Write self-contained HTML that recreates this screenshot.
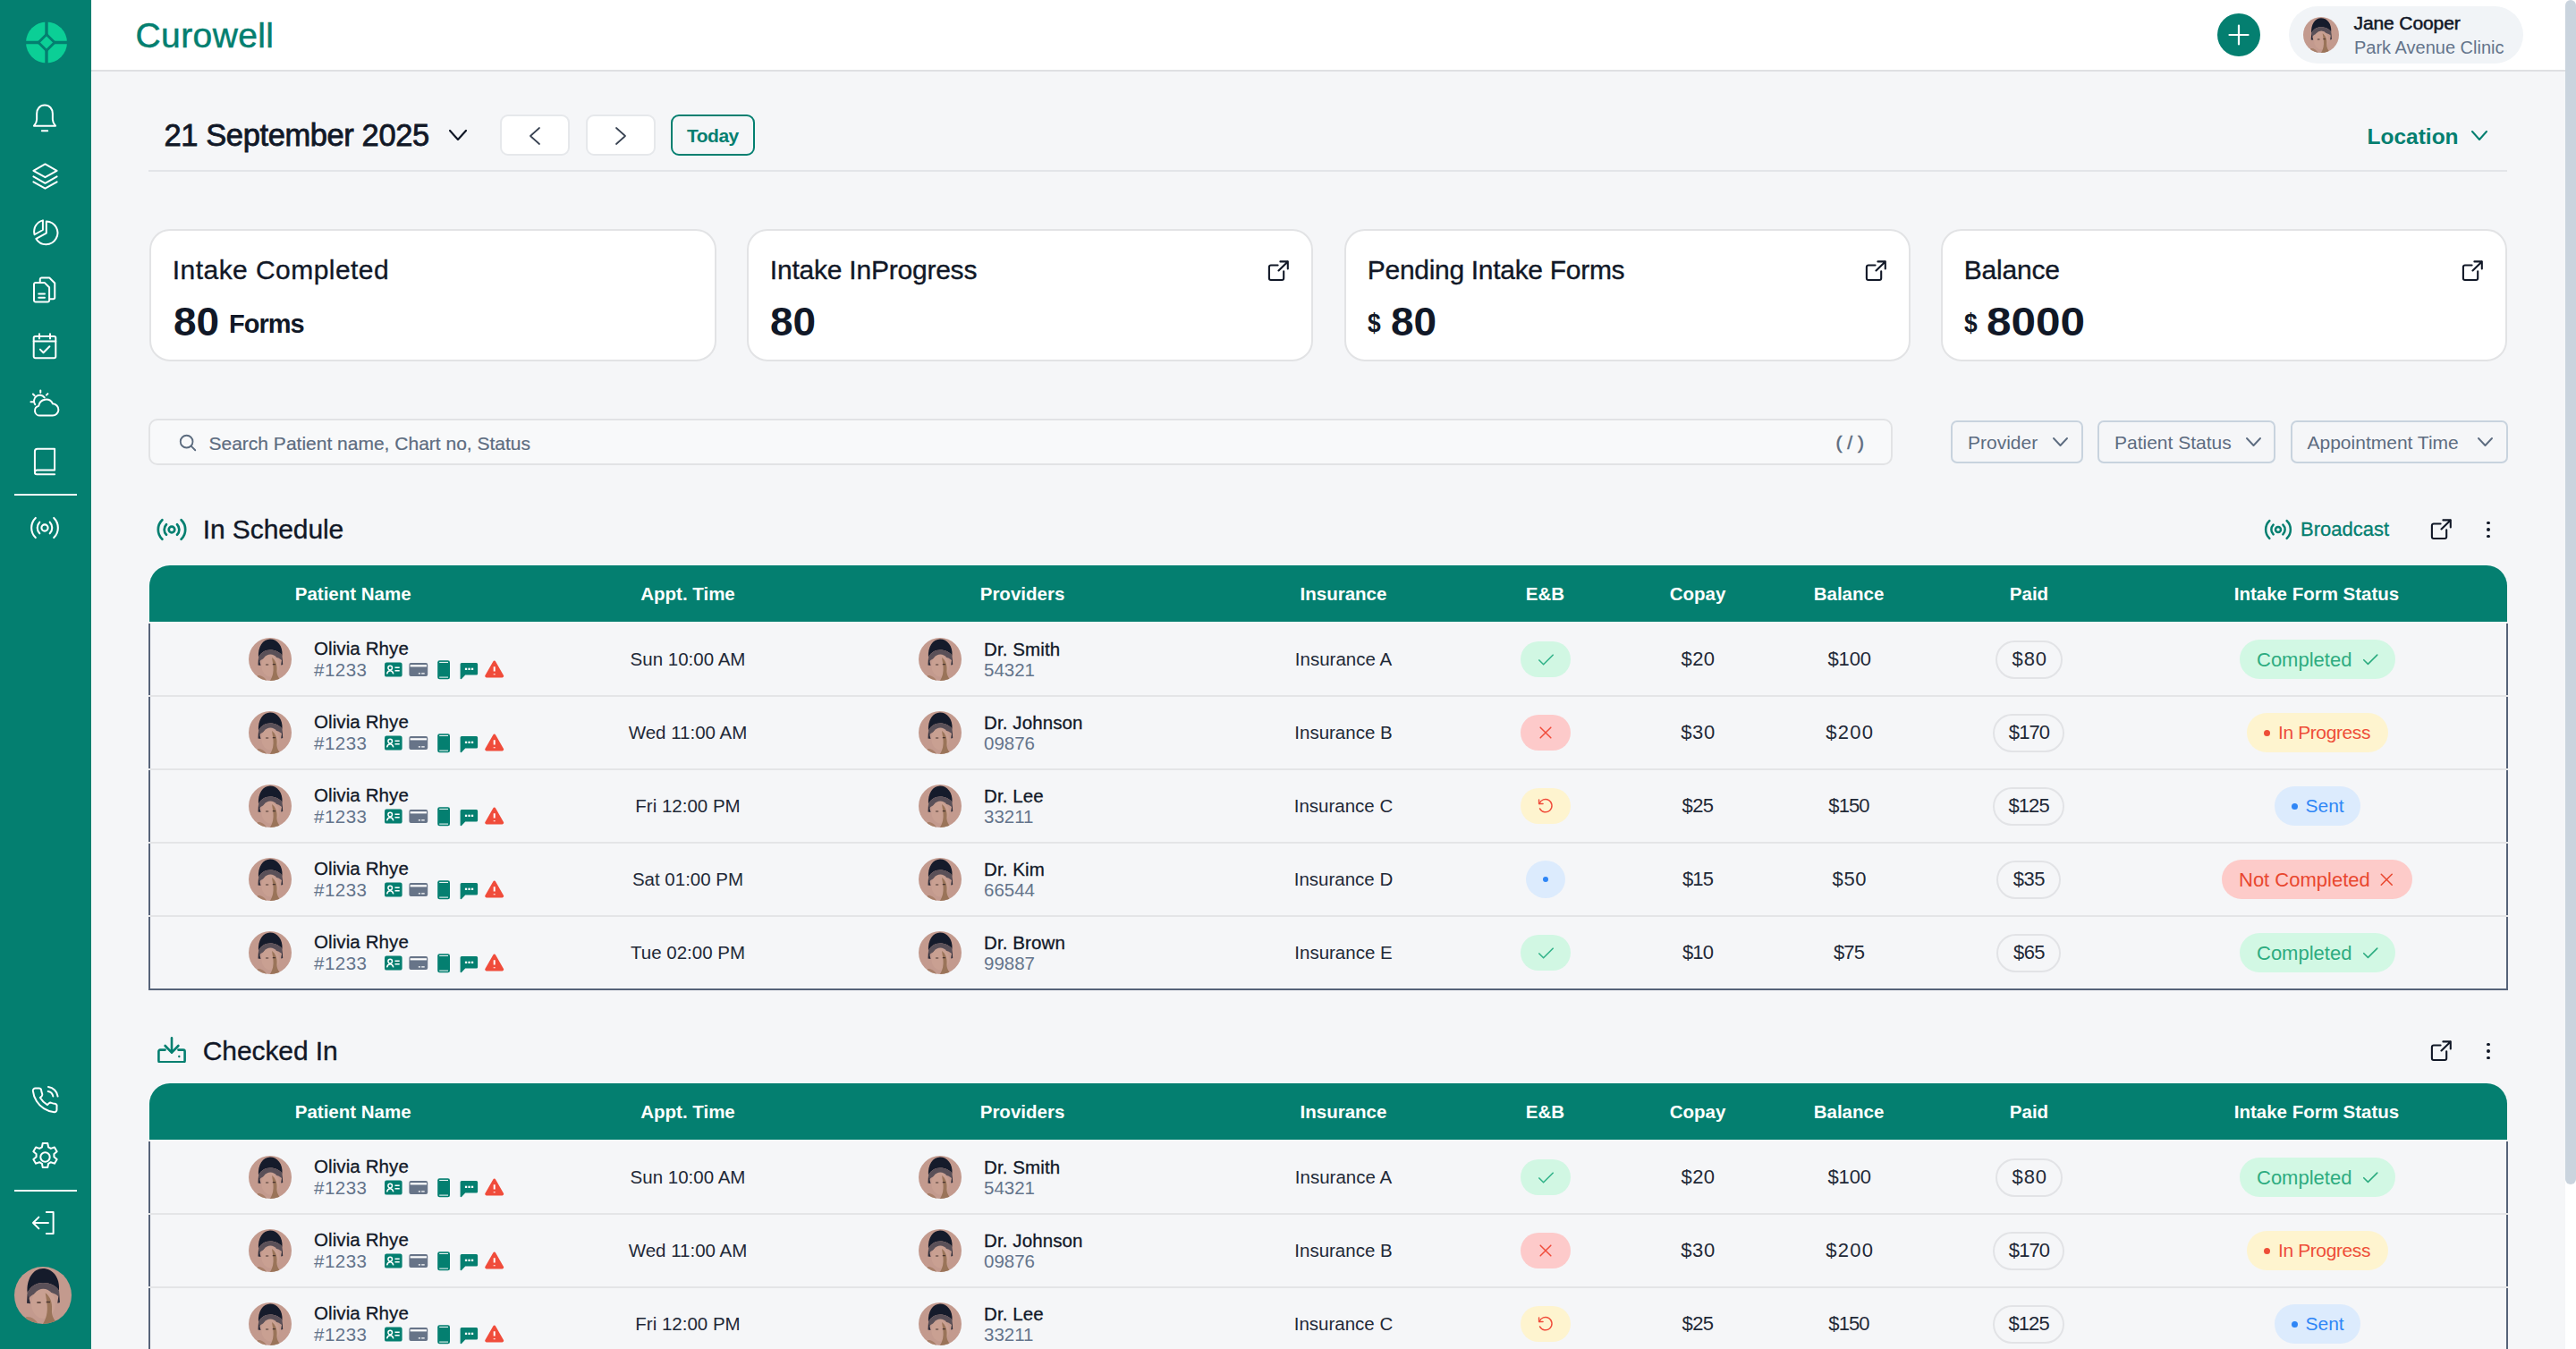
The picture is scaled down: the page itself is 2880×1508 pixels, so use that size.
<!DOCTYPE html><html><head><meta charset="utf-8"><title>Curowell</title><style>
*{box-sizing:border-box;margin:0;padding:0}
html,body{width:2880px;height:1508px;overflow:hidden;background:#f5f6f8;font-family:"Liberation Sans",sans-serif}
.t{position:absolute;white-space:nowrap;line-height:1}
.a{position:absolute}
svg{display:block}
.ic{position:absolute;fill:none;stroke-linecap:round;stroke-linejoin:round}
</style></head><body>
<svg width="0" height="0" style="position:absolute"><defs>
<clipPath id="cc"><circle cx="24" cy="24" r="24"/></clipPath>
<symbol id="av" viewBox="0 0 48 48"><g clip-path="url(#cc)">
<rect width="48" height="48" fill="#c39a8e"/>
<path d="M11 22 C10 10 16 1.5 24 1.5 C32 1.5 38.5 9 37.5 20 C35 16 30 13.5 24 13.5 C18 13.5 13.5 16.5 11 22 Z" fill="#151b2b"/>
<path d="M11 22 C13.5 16.5 18 13.5 24 13.5 C30 13.5 35 16 37.5 20 L37 25 C34 22 30 21 26 22 C22 21 17 22 13.5 25 L12 27 Z" fill="#5a5058"/>
<path d="M11 22 L12.5 27 L13.5 31 L10.5 30.5 Z M37.5 20 L38.2 30 L36.2 30.5 L37 25 Z" fill="#2c2b38"/>
<ellipse cx="24.3" cy="31" rx="10" ry="12.5" fill="#c9a092"/>
<path d="M26 22 C30 25 32 30 31.5 36 C31 41 33.5 45 36.5 48 L24 48 C27 43 28 38 27.5 32 C27 28 26.5 25 26 22Z" fill="#9a7459"/>
<path d="M10 42 C14 41.5 18 44 20 48 L8 48Z" fill="#a8806a"/>
<path d="M19 30h3.2M26.8 29.6h3.2" stroke="#4a3630" stroke-width="1.2"/>
</g></symbol>
</defs></svg>
<div class="a" style="left:0;top:0;width:102px;height:1508px;background:#047f70"></div>
<svg class="a" style="left:28px;top:24px" width="48" height="47" viewBox="0 0 48 47">
<circle cx="24" cy="23.5" r="23" fill="#0bcf96"/>
<path d="M24 0v47M0 23.5h48" stroke="#047f70" stroke-width="3.4"/>
<path d="M24 12.5 L35 23.5 L24 34.5 L13 23.5Z" fill="#047f70"/>
<path d="M24 16.5 L31 23.5 L24 30.5 L17 23.5Z" fill="#0bcf96"/>
</svg>
<svg class="ic" style="left:31.0px;top:113.0px" width="38" height="38" viewBox="0 0 24 24" stroke="#fff" stroke-width="1.26"><path d="M12 2.8c-3.4 0-5.6 2.7-5.6 6V13c0 1.7-.9 3.3-2 4.5h15.2c-1.1-1.2-2-2.8-2-4.5V8.8c0-3.3-2.2-6-5.6-6z"/><path d="M10 21h4"/></svg>
<svg class="ic" style="left:31.5px;top:177.5px" width="37" height="37" viewBox="0 0 24 24" stroke="#fff" stroke-width="1.30"><path d="M12 3.5l8.5 4.8-8.5 4.8-8.5-4.8z"/><path d="M3.5 12.6l8.5 4.8 8.5-4.8"/><path d="M3.5 16.4l8.5 4.8 8.5-4.8"/></svg>
<svg class="ic" style="left:32.0px;top:242.0px" width="36" height="36" viewBox="0 0 24 24" stroke="#fff" stroke-width="1.33"><path d="M13.2 3.6A8.6 8.6 0 1 1 5.6 16.6L13.2 12.4z"/><path d="M10.6 2.9L10.6 10 4.4 13.5A8.6 8.6 0 0 1 10.6 2.9z"/></svg>
<svg class="ic" style="left:32.0px;top:306.0px" width="36" height="36" viewBox="0 0 24 24" stroke="#fff" stroke-width="1.33"><path d="M8.5 6.5V4.2a1.2 1.2 0 0 1 1.2-1.2h5.8l4 4v10.6a1.2 1.2 0 0 1-1.2 1.2h-2.4"/><path d="M5.2 6.6h6.6l3.6 3.6v9.6a1.2 1.2 0 0 1-1.2 1.2H5.2A1.2 1.2 0 0 1 4 19.8V7.8a1.2 1.2 0 0 1 1.2-1.2z"/><path d="M7.5 15h4.5M7.5 17.8h4.5"/></svg>
<svg class="ic" style="left:32.0px;top:369.0px" width="36" height="36" viewBox="0 0 24 24" stroke="#fff" stroke-width="1.33"><rect x="3.8" y="4.6" width="16.4" height="16.2" rx="1.2"/><path d="M8 2.8v3.6M16 2.8v3.6M3.8 8.4h16.4"/><path d="M8.6 14.4l2.4 2.4 4.6-4.6"/></svg>
<svg class="ic" style="left:31.5px;top:432.5px" width="37" height="37" viewBox="0 0 24 24" stroke="#fff" stroke-width="1.30"><path d="M8.3 20.5h8.9a4.3 4.3 0 0 0 .3-8.6 5.4 5.4 0 0 0-10.2 1.5 3.6 3.6 0 0 0 1 7.1z"/><path d="M4.7 12.4a4.2 4.2 0 0 1 6.8-5"/><path d="M8.6 2.2v1.6M3.2 4.9l1.1 1.1M1.6 10.6h1.6M13.9 4.6l-1 1"/></svg>
<svg class="ic" style="left:31.0px;top:497.0px" width="38" height="38" viewBox="0 0 24 24" stroke="#fff" stroke-width="1.26"><path d="M5 19V4.8A1.8 1.8 0 0 1 6.8 3H19v15H6.6A1.6 1.6 0 0 0 5 19.6 1.4 1.4 0 0 0 6.4 21H19"/></svg>
<div class="a" style="left:16px;top:552px;width:70px;height:2px;background:#fff"></div>
<svg class="ic" style="left:32.0px;top:572.0px" width="36" height="36" viewBox="0 0 24 24" stroke="#fff" stroke-width="1.40"><circle cx="12" cy="12" r="2.4"/><path d="M8.2 7.8a6 6 0 0 0 0 8.4M15.8 7.8a6 6 0 0 1 0 8.4M5.2 4.6a10.4 10.4 0 0 0 0 14.8M18.8 4.6a10.4 10.4 0 0 1 0 14.8"/></svg>
<svg class="ic" style="left:32.5px;top:1213.0px" width="34" height="34" viewBox="0 0 24 24" stroke="#fff" stroke-width="1.41"><path d="M14.6 4.9a5 5 0 0 1 4 4M14.8 1.4a8.6 8.6 0 0 1 7.5 7.5"/><path d="M21.5 16.6v2.8a1.9 1.9 0 0 1-2 1.9 18.7 18.7 0 0 1-8.2-2.9 18.4 18.4 0 0 1-5.7-5.7 18.7 18.7 0 0 1-2.9-8.2 1.9 1.9 0 0 1 1.9-2h2.8a1.9 1.9 0 0 1 1.9 1.6c.1.9.3 1.8.7 2.7a1.9 1.9 0 0 1-.4 2L8.4 9.9a15 15 0 0 0 5.7 5.7l1.2-1.2a1.9 1.9 0 0 1 2-.4c.9.3 1.8.6 2.7.7a1.9 1.9 0 0 1 1.6 1.9z"/></svg>
<svg class="ic" style="left:30.5px;top:1274.0px" width="39" height="39" viewBox="0 0 24 24" stroke="#fff" stroke-width="1.23"><circle cx="12" cy="12" r="3.2"/><path d="M10.3 2.5h3.4l.5 2.6 1.7 1 2.5-.9 1.7 2.9-2 1.7v2l2 1.7-1.7 2.9-2.5-.9-1.7 1-.5 2.6h-3.4l-.5-2.6-1.7-1-2.5.9-1.7-2.9 2-1.7v-2l-2-1.7 1.7-2.9 2.5.9 1.7-1z"/></svg>
<div class="a" style="left:16px;top:1330px;width:70px;height:2px;background:#fff"></div>
<svg class="ic" style="left:32.0px;top:1350.0px" width="34" height="34" viewBox="0 0 24 24" stroke="#fff" stroke-width="1.41"><path d="M14 3.5h5.5v17H14"/><path d="M15.5 12H3.5M8 7.5L3.5 12 8 16.5"/></svg>
<svg class="a" style="left:16px;top:1416px" width="64" height="64"><use href="#av"/></svg>
<div class="a" style="left:102px;top:80px;width:1px;height:1428px;background:#fff"></div>
<div class="a" style="left:102px;top:0;width:2766px;height:80px;background:#fff;border-bottom:2px solid #dfe0e3"></div>
<div class="t" style="left:151.5px;top:19.8px;font-size:39px;color:#047f70;letter-spacing:0.4px;-webkit-text-stroke:0.5px #047f70;">Curowell</div>
<div class="a" style="left:2479px;top:15px;width:48px;height:48px;border-radius:50%;background:#047f70"></div>
<svg class="ic" style="left:2491px;top:27px" width="24" height="24" viewBox="0 0 24 24" stroke="#fff" stroke-width="2.2"><path d="M12 1.5v21M1.5 12h21"/></svg>
<div class="a" style="left:2559px;top:7px;width:262px;height:64px;border-radius:32px;background:#f1f4f7"></div>
<svg class="a" style="left:2575px;top:19px" width="40" height="40"><use href="#av"/></svg>
<div class="t" style="left:2631.5px;top:14.6px;font-size:21px;color:#111827;letter-spacing:-0.1px;-webkit-text-stroke:0.55px #111827;">Jane Cooper</div>
<div class="t" style="left:2632px;top:43.3px;font-size:20px;color:#64748b;">Park Avenue Clinic</div>
<div class="a" style="left:2868px;top:0;width:12px;height:1508px;background:#fff"></div>
<div class="a" style="left:2868px;top:0;width:12px;height:1324px;border-radius:6px;background:#cad4de"></div>
<div class="t" style="left:183.5px;top:133.8px;font-size:34.5px;color:#111827;letter-spacing:-0.4px;-webkit-text-stroke:0.8px #111827;">21 September 2025</div>
<svg class="ic" style="left:502px;top:145px" width="20" height="12" viewBox="0 0 20 12" stroke="#111827" stroke-width="2.2"><path d="M1 1L10.0 11L19 1"/></svg>
<div class="a" style="left:559px;top:128px;width:78px;height:46px;border-radius:9px;background:#fff;border:2px solid #e6e8eb"></div>
<div class="a" style="left:655px;top:128px;width:78px;height:46px;border-radius:9px;background:#fff;border:2px solid #e6e8eb"></div>
<svg class="ic" style="left:592px;top:141.5px" width="12" height="20" viewBox="0 0 12 20" stroke="#374151" stroke-width="1.7"><path d="M11 1L1 10.0L11 19"/></svg>
<svg class="ic" style="left:688px;top:141.5px" width="12" height="20" viewBox="0 0 12 20" stroke="#374151" stroke-width="1.7"><path d="M1 1L11 10.0L1 19"/></svg>
<div class="a" style="left:750px;top:128px;width:94px;height:46px;border-radius:9px;border:2px solid #047f70"></div>
<div class="t" style="left:768px;top:140.6px;font-size:21px;color:#047f70;font-weight:700;letter-spacing:-0.5px;">Today</div>
<div class="t" style="left:2646.5px;top:141.1px;font-size:24.5px;color:#047f70;font-weight:700;">Location</div>
<svg class="ic" style="left:2763px;top:146px" width="18" height="11" viewBox="0 0 18 11" stroke="#047f70" stroke-width="2"><path d="M1 1L9.0 10L17 1"/></svg>
<div class="a" style="left:166px;top:190px;width:2637px;height:2px;background:#e3e5e9"></div>
<div class="a" style="left:167px;top:256px;width:634px;height:148px;border-radius:23px;background:#fff;border:2px solid #e2e3e5"></div>
<div class="t" style="left:192.8px;top:287.4px;font-size:30px;color:#111827;letter-spacing:0.45px;-webkit-text-stroke:0.35px #111827;">Intake Completed</div>
<div class="a" style="left:835px;top:256px;width:633px;height:148px;border-radius:23px;background:#fff;border:2px solid #e2e3e5"></div>
<div class="t" style="left:860.8px;top:287.4px;font-size:30px;color:#111827;letter-spacing:-0.22px;-webkit-text-stroke:0.35px #111827;">Intake InProgress</div>
<svg class="ic" style="left:1415.5px;top:289.6px" width="25" height="25" viewBox="0 0 25 25" stroke="#111827" stroke-width="2.1"><path d="M12.6 6.5H4.9a2 2 0 0 0-2 2V21a2 2 0 0 0 2 2h12.3a2 2 0 0 0 2-2V13.3"/><path d="M13.5 12.5L23.8 2.4M15.4 2.4h8.4v8.1"/></svg>
<div class="a" style="left:1503px;top:256px;width:633px;height:148px;border-radius:23px;background:#fff;border:2px solid #e2e3e5"></div>
<div class="t" style="left:1528.8px;top:287.4px;font-size:30px;color:#111827;letter-spacing:-0.3px;-webkit-text-stroke:0.35px #111827;">Pending Intake Forms</div>
<svg class="ic" style="left:2083.5px;top:289.6px" width="25" height="25" viewBox="0 0 25 25" stroke="#111827" stroke-width="2.1"><path d="M12.6 6.5H4.9a2 2 0 0 0-2 2V21a2 2 0 0 0 2 2h12.3a2 2 0 0 0 2-2V13.3"/><path d="M13.5 12.5L23.8 2.4M15.4 2.4h8.4v8.1"/></svg>
<div class="a" style="left:2170px;top:256px;width:633px;height:148px;border-radius:23px;background:#fff;border:2px solid #e2e3e5"></div>
<div class="t" style="left:2195.8px;top:287.4px;font-size:30px;color:#111827;letter-spacing:-0.2px;-webkit-text-stroke:0.35px #111827;">Balance</div>
<svg class="ic" style="left:2750.5px;top:289.6px" width="25" height="25" viewBox="0 0 25 25" stroke="#111827" stroke-width="2.1"><path d="M12.6 6.5H4.9a2 2 0 0 0-2 2V21a2 2 0 0 0 2 2h12.3a2 2 0 0 0 2-2V13.3"/><path d="M13.5 12.5L23.8 2.4M15.4 2.4h8.4v8.1"/></svg>
<div class="t" style="left:193.5px;top:337.5px;font-size:44px;color:#111827;font-weight:700;transform:scaleX(1.045);transform-origin:0 0;">80</div>
<div class="t" style="left:256px;top:347.9px;font-size:29px;color:#111827;font-weight:700;letter-spacing:-1px;">Forms</div>
<div class="t" style="left:860.5px;top:337.5px;font-size:44px;color:#111827;font-weight:700;transform:scaleX(1.045);transform-origin:0 0;">80</div>
<div class="t" style="left:1528.5px;top:346.0px;font-size:30px;color:#111827;font-weight:700;transform:scaleX(0.88);transform-origin:0 0;">$</div>
<div class="t" style="left:1554.5px;top:337.5px;font-size:44px;color:#111827;font-weight:700;transform:scaleX(1.045);transform-origin:0 0;">80</div>
<div class="t" style="left:2195.5px;top:346.0px;font-size:30px;color:#111827;font-weight:700;transform:scaleX(0.88);transform-origin:0 0;">$</div>
<div class="t" style="left:2221.3px;top:337.5px;font-size:44px;color:#111827;font-weight:700;transform:scaleX(1.125);transform-origin:0 0;">8000</div>
<div class="a" style="left:166px;top:468px;width:1950px;height:52px;border-radius:10px;background:#f8f9fa;border:2px solid #e2e3e5"></div>
<svg class="ic" style="left:199px;top:484px" width="22" height="22" viewBox="0 0 24 24" stroke="#5b6b7e" stroke-width="2"><circle cx="10.5" cy="10.5" r="7.5"/><path d="M16 16l5 5"/></svg>
<div class="t" style="left:233.5px;top:485.1px;font-size:21px;color:#5d6c80;-webkit-text-stroke:0.2px #5d6c80;">Search Patient name, Chart no, Status</div>
<div class="t" style="left:2052.5px;top:483.6px;font-size:21px;color:#5d6c80;-webkit-text-stroke:0.5px #5d6c80;">( / )</div>
<div class="a" style="left:2181px;top:470px;width:148px;height:48px;border-radius:7px;border:2px solid #c8d3de"></div>
<div class="t" style="left:2200px;top:483.6px;font-size:21px;color:#5d6c80;">Provider</div>
<svg class="ic" style="left:2294.5px;top:489px" width="17" height="10" viewBox="0 0 17 10" stroke="#5d6c80" stroke-width="1.9"><path d="M1 1L8.5 9L16 1"/></svg>
<div class="a" style="left:2345px;top:470px;width:199px;height:48px;border-radius:7px;border:2px solid #c8d3de"></div>
<div class="t" style="left:2364px;top:483.6px;font-size:21px;color:#5d6c80;">Patient Status</div>
<svg class="ic" style="left:2511px;top:489px" width="17" height="10" viewBox="0 0 17 10" stroke="#5d6c80" stroke-width="1.9"><path d="M1 1L8.5 9L16 1"/></svg>
<div class="a" style="left:2561px;top:470px;width:243px;height:48px;border-radius:7px;border:2px solid #c8d3de"></div>
<div class="t" style="left:2579.5px;top:483.6px;font-size:21px;color:#5d6c80;">Appointment Time</div>
<svg class="ic" style="left:2770px;top:489px" width="17" height="10" viewBox="0 0 17 10" stroke="#5d6c80" stroke-width="1.9"><path d="M1 1L8.5 9L16 1"/></svg>
<svg class="ic" style="left:174px;top:579px" width="36" height="26" viewBox="0 0 36 26" stroke="#047f70" stroke-width="2.7"><circle cx="18" cy="13" r="3.3"/><path d="M12 7.2a8.3 8.3 0 0 0 0 11.6M24 7.2a8.3 8.3 0 0 1 0 11.6M7.4 2.2a15 15 0 0 0 0 21.6M28.6 2.2a15 15 0 0 1 0 21.6"/></svg>
<div class="t" style="left:226.8px;top:576.6px;font-size:30px;color:#111827;letter-spacing:-0.1px;-webkit-text-stroke:0.35px #111827;">In Schedule</div>
<svg class="ic" style="left:2531px;top:580px" width="32" height="24" viewBox="0 0 32 24" stroke="#047f70" stroke-width="2.5"><circle cx="16" cy="12" r="3"/><path d="M10.6 6.6a7.6 7.6 0 0 0 0 10.8M21.4 6.6a7.6 7.6 0 0 1 0 10.8M6.3 2.2a13.6 13.6 0 0 0 0 19.6M25.7 2.2a13.6 13.6 0 0 1 0 19.6"/></svg>
<div class="t" style="left:2572px;top:581.3px;font-size:22px;color:#047f70;-webkit-text-stroke:0.3px #047f70;">Broadcast</div>
<svg class="ic" style="left:2716px;top:579px" width="25" height="25" viewBox="0 0 25 25" stroke="#111827" stroke-width="2.1"><path d="M12.6 6.5H4.9a2 2 0 0 0-2 2V21a2 2 0 0 0 2 2h12.3a2 2 0 0 0 2-2V13.3"/><path d="M13.5 12.5L23.8 2.4M15.4 2.4h8.4v8.1"/></svg>
<div class="a" style="left:2780.1px;top:582.6px;width:3.8px;height:3.8px;border-radius:50%;background:#111827"></div><div class="a" style="left:2780.1px;top:590.1px;width:3.8px;height:3.8px;border-radius:50%;background:#111827"></div><div class="a" style="left:2780.1px;top:597.6px;width:3.8px;height:3.8px;border-radius:50%;background:#111827"></div>
<div class="a" style="left:167px;top:632px;width:2636px;height:63px;border-radius:23px 23px 0 0;background:#047f70"></div>
<div class="a" style="left:166px;top:695px;width:2638px;height:2px;background:#f9f7f7"></div>
<div class="t" style="left:394.7px;top:654.2px;font-size:20.5px;color:#fff;font-weight:700;transform:translateX(-50%);">Patient Name</div>
<div class="t" style="left:769px;top:654.2px;font-size:20.5px;color:#fff;font-weight:700;transform:translateX(-50%);">Appt. Time</div>
<div class="t" style="left:1143px;top:654.2px;font-size:20.5px;color:#fff;font-weight:700;transform:translateX(-50%);">Providers</div>
<div class="t" style="left:1502px;top:654.2px;font-size:20.5px;color:#fff;font-weight:700;transform:translateX(-50%);">Insurance</div>
<div class="t" style="left:1727.4px;top:654.2px;font-size:20.5px;color:#fff;font-weight:700;transform:translateX(-50%);">E&amp;B</div>
<div class="t" style="left:1898px;top:654.2px;font-size:20.5px;color:#fff;font-weight:700;transform:translateX(-50%);">Copay</div>
<div class="t" style="left:2067px;top:654.2px;font-size:20.5px;color:#fff;font-weight:700;transform:translateX(-50%);">Balance</div>
<div class="t" style="left:2268.5px;top:654.2px;font-size:20.5px;color:#fff;font-weight:700;transform:translateX(-50%);">Paid</div>
<div class="t" style="left:2590px;top:654.2px;font-size:20.5px;color:#fff;font-weight:700;transform:translateX(-50%);">Intake Form Status</div>
<div class="a" style="left:166px;top:697px;width:2px;height:80px;background:#566379"></div>
<div class="a" style="left:2802px;top:697px;width:2px;height:80px;background:#566379"></div>
<div class="a" style="left:166px;top:777px;width:2638px;height:2px;background:#e4e5e7"></div>
<svg class="a" style="left:278px;top:713px" width="48" height="48"><use href="#av"/></svg>
<div class="t" style="left:351px;top:715.2px;font-size:20.5px;color:#111827;letter-spacing:0.1px;-webkit-text-stroke:0.3px #111827;">Olivia Rhye</div>
<div class="t" style="left:351px;top:738.7px;font-size:20.5px;color:#64748b;letter-spacing:0.5px;">#1233</div>
<svg class="a" style="left:430px;top:738px" width="134" height="22" viewBox="0 0 134 22">
<rect x="0" y="2.6" width="19.6" height="16" rx="2.2" fill="#047f70"/>
<circle cx="6.2" cy="8.6" r="2.3" fill="none" stroke="#fff" stroke-width="1.5"/><path d="M2.6 15.4c.6-2.4 2-3.6 3.6-3.6s3 1.2 3.6 3.6" fill="none" stroke="#fff" stroke-width="1.5"/>
<path d="M11.5 8.3h5.2M11.5 11.8h5.2" stroke="#fff" stroke-width="1.6"/>
<rect x="27.4" y="3.1" width="20.8" height="15" rx="2" fill="#677488"/>
<rect x="28.6" y="5.2" width="18.4" height="2.2" fill="#fff"/>
<path d="M37.8 14.9h2.2M41.2 14.9h3.5" stroke="#fff" stroke-width="1.3"/>
<rect x="59.2" y="0.3" width="13.8" height="21" rx="2.3" fill="#047f70"/>
<path d="M61.2 2.4h9.8M61.2 19.1h9.8" stroke="#fff" stroke-width="1"/>
<path d="M84.6 4.6a1.5 1.5 0 0 1 1.5-1.5h16.5a1.5 1.5 0 0 1 1.5 1.5v10.4a1.5 1.5 0 0 1-1.5 1.5h-12.4l-4.2 4.4a.8.8 0 0 1-1.4-.5z" fill="#047f70"/>
<rect x="89.9" y="8.7" width="2.3" height="2.3" fill="#fff"/><rect x="93.4" y="8.7" width="2.3" height="2.3" fill="#fff"/><rect x="96.9" y="8.7" width="2.3" height="2.3" fill="#fff"/>
<path d="M121.3 1.4a1.6 1.6 0 0 1 2.8 0l8.9 15.6a1.6 1.6 0 0 1-1.4 2.4h-17.8a1.6 1.6 0 0 1-1.4-2.4z" fill="#f04c3b"/>
<path d="M122.7 7.2v5.2M122.7 15.3v.9" stroke="#fff" stroke-width="2"/>
</svg>
<div class="t" style="left:769px;top:726.7px;font-size:20.5px;color:#1f2937;transform:translateX(-50%);">Sun 10:00 AM</div>
<svg class="a" style="left:1027px;top:713px" width="48" height="48"><use href="#av"/></svg>
<div class="t" style="left:1100px;top:716.2px;font-size:20.5px;color:#111827;letter-spacing:0.1px;-webkit-text-stroke:0.3px #111827;">Dr. Smith</div>
<div class="t" style="left:1100px;top:738.7px;font-size:20.5px;color:#64748b;">54321</div>
<div class="t" style="left:1502px;top:727.1px;font-size:20.5px;color:#1f2937;transform:translateX(-50%);">Insurance A</div>
<div class="a" style="left:1700px;top:717px;width:56px;height:40px;border-radius:20px;background:#d1f7e3"></div>
<svg class="ic" style="left:1716.9px;top:726.0px" width="23" height="23" viewBox="0 0 24 24" stroke="#34b48a" stroke-width="1.7"><path d="M4 12.5l5 5L20 6.5"/></svg>
<div class="t" style="left:1879.6px;top:726.4px;font-size:22px;color:#1f2937;letter-spacing:0.35px;">$20</div>
<div class="t" style="left:2043.5px;top:726.4px;font-size:22px;color:#1f2937;letter-spacing:-0.17px;">$100</div>
<div class="t" style="left:2249.6px;top:726.4px;font-size:22px;color:#1f2937;letter-spacing:0.85px;">$80</div>
<div class="a" style="left:2230.9px;top:715.5px;width:75px;height:43px;border-radius:22px;border:2px solid #e2e3e6"></div>
<div class="a" style="left:2504px;top:715px;width:174px;height:44px;border-radius:22px;background:#d2f8e4"></div>
<div class="t" style="left:2523px;top:726.7px;font-size:22px;color:#2dac80;">Completed</div>
<svg class="ic" style="left:2638.8px;top:726.2px" width="22.5" height="22.5" viewBox="0 0 24 24" stroke="#2dac80" stroke-width="1.7"><path d="M4 12.5l5 5L20 6.5"/></svg>
<div class="a" style="left:166px;top:779px;width:2px;height:80px;background:#566379"></div>
<div class="a" style="left:2802px;top:779px;width:2px;height:80px;background:#566379"></div>
<div class="a" style="left:166px;top:859px;width:2638px;height:2px;background:#e4e5e7"></div>
<svg class="a" style="left:278px;top:795px" width="48" height="48"><use href="#av"/></svg>
<div class="t" style="left:351px;top:797.2px;font-size:20.5px;color:#111827;letter-spacing:0.1px;-webkit-text-stroke:0.3px #111827;">Olivia Rhye</div>
<div class="t" style="left:351px;top:820.7px;font-size:20.5px;color:#64748b;letter-spacing:0.5px;">#1233</div>
<svg class="a" style="left:430px;top:820px" width="134" height="22" viewBox="0 0 134 22">
<rect x="0" y="2.6" width="19.6" height="16" rx="2.2" fill="#047f70"/>
<circle cx="6.2" cy="8.6" r="2.3" fill="none" stroke="#fff" stroke-width="1.5"/><path d="M2.6 15.4c.6-2.4 2-3.6 3.6-3.6s3 1.2 3.6 3.6" fill="none" stroke="#fff" stroke-width="1.5"/>
<path d="M11.5 8.3h5.2M11.5 11.8h5.2" stroke="#fff" stroke-width="1.6"/>
<rect x="27.4" y="3.1" width="20.8" height="15" rx="2" fill="#677488"/>
<rect x="28.6" y="5.2" width="18.4" height="2.2" fill="#fff"/>
<path d="M37.8 14.9h2.2M41.2 14.9h3.5" stroke="#fff" stroke-width="1.3"/>
<rect x="59.2" y="0.3" width="13.8" height="21" rx="2.3" fill="#047f70"/>
<path d="M61.2 2.4h9.8M61.2 19.1h9.8" stroke="#fff" stroke-width="1"/>
<path d="M84.6 4.6a1.5 1.5 0 0 1 1.5-1.5h16.5a1.5 1.5 0 0 1 1.5 1.5v10.4a1.5 1.5 0 0 1-1.5 1.5h-12.4l-4.2 4.4a.8.8 0 0 1-1.4-.5z" fill="#047f70"/>
<rect x="89.9" y="8.7" width="2.3" height="2.3" fill="#fff"/><rect x="93.4" y="8.7" width="2.3" height="2.3" fill="#fff"/><rect x="96.9" y="8.7" width="2.3" height="2.3" fill="#fff"/>
<path d="M121.3 1.4a1.6 1.6 0 0 1 2.8 0l8.9 15.6a1.6 1.6 0 0 1-1.4 2.4h-17.8a1.6 1.6 0 0 1-1.4-2.4z" fill="#f04c3b"/>
<path d="M122.7 7.2v5.2M122.7 15.3v.9" stroke="#fff" stroke-width="2"/>
</svg>
<div class="t" style="left:769px;top:808.7px;font-size:20.5px;color:#1f2937;transform:translateX(-50%);">Wed 11:00 AM</div>
<svg class="a" style="left:1027px;top:795px" width="48" height="48"><use href="#av"/></svg>
<div class="t" style="left:1100px;top:798.2px;font-size:20.5px;color:#111827;letter-spacing:0.1px;-webkit-text-stroke:0.3px #111827;">Dr. Johnson</div>
<div class="t" style="left:1100px;top:820.7px;font-size:20.5px;color:#64748b;">09876</div>
<div class="t" style="left:1502px;top:809.1px;font-size:20.5px;color:#1f2937;transform:translateX(-50%);">Insurance B</div>
<div class="a" style="left:1700px;top:799px;width:56px;height:40px;border-radius:20px;background:#fdcaca"></div>
<svg class="ic" style="left:1718.2px;top:809.0px" width="20" height="20" viewBox="0 0 24 24" stroke="#f04c3b" stroke-width="1.8"><path d="M5 5l14 14M19 5L5 19"/></svg>
<div class="t" style="left:1879.2px;top:808.4px;font-size:22px;color:#1f2937;letter-spacing:0.65px;">$30</div>
<div class="t" style="left:2041.2px;top:808.4px;font-size:22px;color:#1f2937;letter-spacing:1.3px;">$200</div>
<div class="t" style="left:2245.8px;top:808.4px;font-size:22px;color:#1f2937;letter-spacing:-0.9px;">$170</div>
<div class="a" style="left:2228.4px;top:797.5px;width:80px;height:43px;border-radius:22px;border:2px solid #e2e3e6"></div>
<div class="a" style="left:2512px;top:797px;width:158px;height:44px;border-radius:22px;background:#fef4cf"></div>
<div class="a" style="left:2530.6px;top:815.5px;width:7px;height:7px;border-radius:50%;background:#ee4e38"></div>
<div class="t" style="left:2547px;top:808.1px;font-size:21px;color:#ee4e38;letter-spacing:-0.4px;">In Progress</div>
<div class="a" style="left:166px;top:861px;width:2px;height:80px;background:#566379"></div>
<div class="a" style="left:2802px;top:861px;width:2px;height:80px;background:#566379"></div>
<div class="a" style="left:166px;top:941px;width:2638px;height:2px;background:#e4e5e7"></div>
<svg class="a" style="left:278px;top:877px" width="48" height="48"><use href="#av"/></svg>
<div class="t" style="left:351px;top:879.2px;font-size:20.5px;color:#111827;letter-spacing:0.1px;-webkit-text-stroke:0.3px #111827;">Olivia Rhye</div>
<div class="t" style="left:351px;top:902.7px;font-size:20.5px;color:#64748b;letter-spacing:0.5px;">#1233</div>
<svg class="a" style="left:430px;top:902px" width="134" height="22" viewBox="0 0 134 22">
<rect x="0" y="2.6" width="19.6" height="16" rx="2.2" fill="#047f70"/>
<circle cx="6.2" cy="8.6" r="2.3" fill="none" stroke="#fff" stroke-width="1.5"/><path d="M2.6 15.4c.6-2.4 2-3.6 3.6-3.6s3 1.2 3.6 3.6" fill="none" stroke="#fff" stroke-width="1.5"/>
<path d="M11.5 8.3h5.2M11.5 11.8h5.2" stroke="#fff" stroke-width="1.6"/>
<rect x="27.4" y="3.1" width="20.8" height="15" rx="2" fill="#677488"/>
<rect x="28.6" y="5.2" width="18.4" height="2.2" fill="#fff"/>
<path d="M37.8 14.9h2.2M41.2 14.9h3.5" stroke="#fff" stroke-width="1.3"/>
<rect x="59.2" y="0.3" width="13.8" height="21" rx="2.3" fill="#047f70"/>
<path d="M61.2 2.4h9.8M61.2 19.1h9.8" stroke="#fff" stroke-width="1"/>
<path d="M84.6 4.6a1.5 1.5 0 0 1 1.5-1.5h16.5a1.5 1.5 0 0 1 1.5 1.5v10.4a1.5 1.5 0 0 1-1.5 1.5h-12.4l-4.2 4.4a.8.8 0 0 1-1.4-.5z" fill="#047f70"/>
<rect x="89.9" y="8.7" width="2.3" height="2.3" fill="#fff"/><rect x="93.4" y="8.7" width="2.3" height="2.3" fill="#fff"/><rect x="96.9" y="8.7" width="2.3" height="2.3" fill="#fff"/>
<path d="M121.3 1.4a1.6 1.6 0 0 1 2.8 0l8.9 15.6a1.6 1.6 0 0 1-1.4 2.4h-17.8a1.6 1.6 0 0 1-1.4-2.4z" fill="#f04c3b"/>
<path d="M122.7 7.2v5.2M122.7 15.3v.9" stroke="#fff" stroke-width="2"/>
</svg>
<div class="t" style="left:769px;top:890.7px;font-size:20.5px;color:#1f2937;transform:translateX(-50%);">Fri 12:00 PM</div>
<svg class="a" style="left:1027px;top:877px" width="48" height="48"><use href="#av"/></svg>
<div class="t" style="left:1100px;top:880.2px;font-size:20.5px;color:#111827;letter-spacing:0.1px;-webkit-text-stroke:0.3px #111827;">Dr. Lee</div>
<div class="t" style="left:1100px;top:902.7px;font-size:20.5px;color:#64748b;">33211</div>
<div class="t" style="left:1502px;top:891.1px;font-size:20.5px;color:#1f2937;transform:translateX(-50%);">Insurance C</div>
<div class="a" style="left:1700px;top:881px;width:56px;height:40px;border-radius:20px;background:#fef4cf"></div>
<svg class="ic" style="left:1716.5px;top:890.2px" width="21.5" height="21.5" viewBox="0 0 24 24" stroke="#f04c3b" stroke-width="1.6"><path d="M4.5 9.5A8 8 0 1 1 5 15.5"/><path d="M4 4.5v5h5"/></svg>
<div class="t" style="left:1880.5px;top:890.4px;font-size:22px;color:#1f2937;letter-spacing:-0.55px;">$25</div>
<div class="t" style="left:2044.3px;top:890.4px;font-size:22px;color:#1f2937;letter-spacing:-0.9px;">$150</div>
<div class="t" style="left:2245.4px;top:890.4px;font-size:22px;color:#1f2937;letter-spacing:-0.9px;">$125</div>
<div class="a" style="left:2228.4px;top:879.5px;width:80px;height:43px;border-radius:22px;border:2px solid #e2e3e6"></div>
<div class="a" style="left:2543px;top:879px;width:96px;height:44px;border-radius:22px;background:#dcebfd"></div>
<div class="a" style="left:2561.6px;top:897.5px;width:7px;height:7px;border-radius:50%;background:#2f86f6"></div>
<div class="t" style="left:2577.5px;top:890.1px;font-size:21px;color:#2f86f6;">Sent</div>
<div class="a" style="left:166px;top:943px;width:2px;height:80px;background:#566379"></div>
<div class="a" style="left:2802px;top:943px;width:2px;height:80px;background:#566379"></div>
<div class="a" style="left:166px;top:1023px;width:2638px;height:2px;background:#e4e5e7"></div>
<svg class="a" style="left:278px;top:959px" width="48" height="48"><use href="#av"/></svg>
<div class="t" style="left:351px;top:961.2px;font-size:20.5px;color:#111827;letter-spacing:0.1px;-webkit-text-stroke:0.3px #111827;">Olivia Rhye</div>
<div class="t" style="left:351px;top:984.7px;font-size:20.5px;color:#64748b;letter-spacing:0.5px;">#1233</div>
<svg class="a" style="left:430px;top:984px" width="134" height="22" viewBox="0 0 134 22">
<rect x="0" y="2.6" width="19.6" height="16" rx="2.2" fill="#047f70"/>
<circle cx="6.2" cy="8.6" r="2.3" fill="none" stroke="#fff" stroke-width="1.5"/><path d="M2.6 15.4c.6-2.4 2-3.6 3.6-3.6s3 1.2 3.6 3.6" fill="none" stroke="#fff" stroke-width="1.5"/>
<path d="M11.5 8.3h5.2M11.5 11.8h5.2" stroke="#fff" stroke-width="1.6"/>
<rect x="27.4" y="3.1" width="20.8" height="15" rx="2" fill="#677488"/>
<rect x="28.6" y="5.2" width="18.4" height="2.2" fill="#fff"/>
<path d="M37.8 14.9h2.2M41.2 14.9h3.5" stroke="#fff" stroke-width="1.3"/>
<rect x="59.2" y="0.3" width="13.8" height="21" rx="2.3" fill="#047f70"/>
<path d="M61.2 2.4h9.8M61.2 19.1h9.8" stroke="#fff" stroke-width="1"/>
<path d="M84.6 4.6a1.5 1.5 0 0 1 1.5-1.5h16.5a1.5 1.5 0 0 1 1.5 1.5v10.4a1.5 1.5 0 0 1-1.5 1.5h-12.4l-4.2 4.4a.8.8 0 0 1-1.4-.5z" fill="#047f70"/>
<rect x="89.9" y="8.7" width="2.3" height="2.3" fill="#fff"/><rect x="93.4" y="8.7" width="2.3" height="2.3" fill="#fff"/><rect x="96.9" y="8.7" width="2.3" height="2.3" fill="#fff"/>
<path d="M121.3 1.4a1.6 1.6 0 0 1 2.8 0l8.9 15.6a1.6 1.6 0 0 1-1.4 2.4h-17.8a1.6 1.6 0 0 1-1.4-2.4z" fill="#f04c3b"/>
<path d="M122.7 7.2v5.2M122.7 15.3v.9" stroke="#fff" stroke-width="2"/>
</svg>
<div class="t" style="left:769px;top:972.7px;font-size:20.5px;color:#1f2937;transform:translateX(-50%);">Sat 01:00 PM</div>
<svg class="a" style="left:1027px;top:959px" width="48" height="48"><use href="#av"/></svg>
<div class="t" style="left:1100px;top:962.2px;font-size:20.5px;color:#111827;letter-spacing:0.1px;-webkit-text-stroke:0.3px #111827;">Dr. Kim</div>
<div class="t" style="left:1100px;top:984.7px;font-size:20.5px;color:#64748b;">66544</div>
<div class="t" style="left:1502px;top:973.1px;font-size:20.5px;color:#1f2937;transform:translateX(-50%);">Insurance D</div>
<div class="a" style="left:1706px;top:962px;width:44px;height:42px;border-radius:50%;background:#dcebfd"></div>
<div class="a" style="left:1724.6px;top:979.7px;width:6.6px;height:6.6px;border-radius:50%;background:#2f86f6"></div>
<div class="t" style="left:1881.0px;top:972.4px;font-size:22px;color:#1f2937;letter-spacing:-0.9px;">$15</div>
<div class="t" style="left:2048.4px;top:972.4px;font-size:22px;color:#1f2937;letter-spacing:0.75px;">$50</div>
<div class="t" style="left:2250.7px;top:972.4px;font-size:22px;color:#1f2937;letter-spacing:-0.4px;">$35</div>
<div class="a" style="left:2232.4px;top:961.5px;width:72px;height:43px;border-radius:22px;border:2px solid #e2e3e6"></div>
<div class="a" style="left:2484px;top:961px;width:213px;height:44px;border-radius:22px;background:#fdcbc9"></div>
<div class="t" style="left:2503px;top:972.7px;font-size:22px;color:#e9472f;">Not Completed</div>
<svg class="ic" style="left:2658.4px;top:972.8px" width="20.5" height="20.5" viewBox="0 0 24 24" stroke="#e9472f" stroke-width="1.8"><path d="M5 5l14 14M19 5L5 19"/></svg>
<div class="a" style="left:166px;top:1025px;width:2px;height:80px;background:#566379"></div>
<div class="a" style="left:2802px;top:1025px;width:2px;height:80px;background:#566379"></div>
<div class="a" style="left:166px;top:1105px;width:2638px;height:2px;background:#566379"></div>
<svg class="a" style="left:278px;top:1041px" width="48" height="48"><use href="#av"/></svg>
<div class="t" style="left:351px;top:1043.2px;font-size:20.5px;color:#111827;letter-spacing:0.1px;-webkit-text-stroke:0.3px #111827;">Olivia Rhye</div>
<div class="t" style="left:351px;top:1066.7px;font-size:20.5px;color:#64748b;letter-spacing:0.5px;">#1233</div>
<svg class="a" style="left:430px;top:1066px" width="134" height="22" viewBox="0 0 134 22">
<rect x="0" y="2.6" width="19.6" height="16" rx="2.2" fill="#047f70"/>
<circle cx="6.2" cy="8.6" r="2.3" fill="none" stroke="#fff" stroke-width="1.5"/><path d="M2.6 15.4c.6-2.4 2-3.6 3.6-3.6s3 1.2 3.6 3.6" fill="none" stroke="#fff" stroke-width="1.5"/>
<path d="M11.5 8.3h5.2M11.5 11.8h5.2" stroke="#fff" stroke-width="1.6"/>
<rect x="27.4" y="3.1" width="20.8" height="15" rx="2" fill="#677488"/>
<rect x="28.6" y="5.2" width="18.4" height="2.2" fill="#fff"/>
<path d="M37.8 14.9h2.2M41.2 14.9h3.5" stroke="#fff" stroke-width="1.3"/>
<rect x="59.2" y="0.3" width="13.8" height="21" rx="2.3" fill="#047f70"/>
<path d="M61.2 2.4h9.8M61.2 19.1h9.8" stroke="#fff" stroke-width="1"/>
<path d="M84.6 4.6a1.5 1.5 0 0 1 1.5-1.5h16.5a1.5 1.5 0 0 1 1.5 1.5v10.4a1.5 1.5 0 0 1-1.5 1.5h-12.4l-4.2 4.4a.8.8 0 0 1-1.4-.5z" fill="#047f70"/>
<rect x="89.9" y="8.7" width="2.3" height="2.3" fill="#fff"/><rect x="93.4" y="8.7" width="2.3" height="2.3" fill="#fff"/><rect x="96.9" y="8.7" width="2.3" height="2.3" fill="#fff"/>
<path d="M121.3 1.4a1.6 1.6 0 0 1 2.8 0l8.9 15.6a1.6 1.6 0 0 1-1.4 2.4h-17.8a1.6 1.6 0 0 1-1.4-2.4z" fill="#f04c3b"/>
<path d="M122.7 7.2v5.2M122.7 15.3v.9" stroke="#fff" stroke-width="2"/>
</svg>
<div class="t" style="left:769px;top:1054.7px;font-size:20.5px;color:#1f2937;transform:translateX(-50%);">Tue 02:00 PM</div>
<svg class="a" style="left:1027px;top:1041px" width="48" height="48"><use href="#av"/></svg>
<div class="t" style="left:1100px;top:1044.2px;font-size:20.5px;color:#111827;letter-spacing:0.1px;-webkit-text-stroke:0.3px #111827;">Dr. Brown</div>
<div class="t" style="left:1100px;top:1066.7px;font-size:20.5px;color:#64748b;">99887</div>
<div class="t" style="left:1502px;top:1055.1px;font-size:20.5px;color:#1f2937;transform:translateX(-50%);">Insurance E</div>
<div class="a" style="left:1700px;top:1045px;width:56px;height:40px;border-radius:20px;background:#d1f7e3"></div>
<svg class="ic" style="left:1716.9px;top:1054.0px" width="23" height="23" viewBox="0 0 24 24" stroke="#34b48a" stroke-width="1.7"><path d="M4 12.5l5 5L20 6.5"/></svg>
<div class="t" style="left:1881.0px;top:1054.4px;font-size:22px;color:#1f2937;letter-spacing:-0.9px;">$10</div>
<div class="t" style="left:2050.0px;top:1054.4px;font-size:22px;color:#1f2937;letter-spacing:-0.9px;">$75</div>
<div class="t" style="left:2251.0px;top:1054.4px;font-size:22px;color:#1f2937;letter-spacing:-0.55px;">$65</div>
<div class="a" style="left:2232.4px;top:1043.5px;width:72px;height:43px;border-radius:22px;border:2px solid #e2e3e6"></div>
<div class="a" style="left:2504px;top:1043px;width:174px;height:44px;border-radius:22px;background:#d2f8e4"></div>
<div class="t" style="left:2523px;top:1054.7px;font-size:22px;color:#2dac80;">Completed</div>
<svg class="ic" style="left:2638.8px;top:1054.2px" width="22.5" height="22.5" viewBox="0 0 24 24" stroke="#2dac80" stroke-width="1.7"><path d="M4 12.5l5 5L20 6.5"/></svg>
<svg class="ic" style="left:176px;top:1159px" width="32" height="29" viewBox="0 0 32 29" stroke="#047f70" stroke-width="2.6"><path d="M8.6 14.6H3a1.6 1.6 0 0 0-1.6 1.6v10.6A1.6 1.6 0 0 0 3 28.4h26a1.6 1.6 0 0 0 1.6-1.6V16.2A1.6 1.6 0 0 0 29 14.6h-5.6"/><path d="M16 1.3v16.4M8.6 10l7.4 7.7 7.4-7.7"/><circle cx="24.3" cy="22" r="1.2" fill="#047f70" stroke="none"/></svg>
<div class="t" style="left:226.8px;top:1159.6px;font-size:30px;color:#111827;letter-spacing:-0.1px;-webkit-text-stroke:0.35px #111827;">Checked In</div>
<svg class="ic" style="left:2716px;top:1162px" width="25" height="25" viewBox="0 0 25 25" stroke="#111827" stroke-width="2.1"><path d="M12.6 6.5H4.9a2 2 0 0 0-2 2V21a2 2 0 0 0 2 2h12.3a2 2 0 0 0 2-2V13.3"/><path d="M13.5 12.5L23.8 2.4M15.4 2.4h8.4v8.1"/></svg>
<div class="a" style="left:2780.1px;top:1165.6px;width:3.8px;height:3.8px;border-radius:50%;background:#111827"></div><div class="a" style="left:2780.1px;top:1173.1px;width:3.8px;height:3.8px;border-radius:50%;background:#111827"></div><div class="a" style="left:2780.1px;top:1180.6px;width:3.8px;height:3.8px;border-radius:50%;background:#111827"></div>
<div class="a" style="left:167px;top:1211px;width:2636px;height:63px;border-radius:23px 23px 0 0;background:#047f70"></div>
<div class="a" style="left:166px;top:1274px;width:2638px;height:2px;background:#f9f7f7"></div>
<div class="t" style="left:394.7px;top:1233.2px;font-size:20.5px;color:#fff;font-weight:700;transform:translateX(-50%);">Patient Name</div>
<div class="t" style="left:769px;top:1233.2px;font-size:20.5px;color:#fff;font-weight:700;transform:translateX(-50%);">Appt. Time</div>
<div class="t" style="left:1143px;top:1233.2px;font-size:20.5px;color:#fff;font-weight:700;transform:translateX(-50%);">Providers</div>
<div class="t" style="left:1502px;top:1233.2px;font-size:20.5px;color:#fff;font-weight:700;transform:translateX(-50%);">Insurance</div>
<div class="t" style="left:1727.4px;top:1233.2px;font-size:20.5px;color:#fff;font-weight:700;transform:translateX(-50%);">E&amp;B</div>
<div class="t" style="left:1898px;top:1233.2px;font-size:20.5px;color:#fff;font-weight:700;transform:translateX(-50%);">Copay</div>
<div class="t" style="left:2067px;top:1233.2px;font-size:20.5px;color:#fff;font-weight:700;transform:translateX(-50%);">Balance</div>
<div class="t" style="left:2268.5px;top:1233.2px;font-size:20.5px;color:#fff;font-weight:700;transform:translateX(-50%);">Paid</div>
<div class="t" style="left:2590px;top:1233.2px;font-size:20.5px;color:#fff;font-weight:700;transform:translateX(-50%);">Intake Form Status</div>
<div class="a" style="left:166px;top:1276px;width:2px;height:80px;background:#566379"></div>
<div class="a" style="left:2802px;top:1276px;width:2px;height:80px;background:#566379"></div>
<div class="a" style="left:166px;top:1356px;width:2638px;height:2px;background:#e4e5e7"></div>
<svg class="a" style="left:278px;top:1292px" width="48" height="48"><use href="#av"/></svg>
<div class="t" style="left:351px;top:1294.2px;font-size:20.5px;color:#111827;letter-spacing:0.1px;-webkit-text-stroke:0.3px #111827;">Olivia Rhye</div>
<div class="t" style="left:351px;top:1317.7px;font-size:20.5px;color:#64748b;letter-spacing:0.5px;">#1233</div>
<svg class="a" style="left:430px;top:1317px" width="134" height="22" viewBox="0 0 134 22">
<rect x="0" y="2.6" width="19.6" height="16" rx="2.2" fill="#047f70"/>
<circle cx="6.2" cy="8.6" r="2.3" fill="none" stroke="#fff" stroke-width="1.5"/><path d="M2.6 15.4c.6-2.4 2-3.6 3.6-3.6s3 1.2 3.6 3.6" fill="none" stroke="#fff" stroke-width="1.5"/>
<path d="M11.5 8.3h5.2M11.5 11.8h5.2" stroke="#fff" stroke-width="1.6"/>
<rect x="27.4" y="3.1" width="20.8" height="15" rx="2" fill="#677488"/>
<rect x="28.6" y="5.2" width="18.4" height="2.2" fill="#fff"/>
<path d="M37.8 14.9h2.2M41.2 14.9h3.5" stroke="#fff" stroke-width="1.3"/>
<rect x="59.2" y="0.3" width="13.8" height="21" rx="2.3" fill="#047f70"/>
<path d="M61.2 2.4h9.8M61.2 19.1h9.8" stroke="#fff" stroke-width="1"/>
<path d="M84.6 4.6a1.5 1.5 0 0 1 1.5-1.5h16.5a1.5 1.5 0 0 1 1.5 1.5v10.4a1.5 1.5 0 0 1-1.5 1.5h-12.4l-4.2 4.4a.8.8 0 0 1-1.4-.5z" fill="#047f70"/>
<rect x="89.9" y="8.7" width="2.3" height="2.3" fill="#fff"/><rect x="93.4" y="8.7" width="2.3" height="2.3" fill="#fff"/><rect x="96.9" y="8.7" width="2.3" height="2.3" fill="#fff"/>
<path d="M121.3 1.4a1.6 1.6 0 0 1 2.8 0l8.9 15.6a1.6 1.6 0 0 1-1.4 2.4h-17.8a1.6 1.6 0 0 1-1.4-2.4z" fill="#f04c3b"/>
<path d="M122.7 7.2v5.2M122.7 15.3v.9" stroke="#fff" stroke-width="2"/>
</svg>
<div class="t" style="left:769px;top:1305.7px;font-size:20.5px;color:#1f2937;transform:translateX(-50%);">Sun 10:00 AM</div>
<svg class="a" style="left:1027px;top:1292px" width="48" height="48"><use href="#av"/></svg>
<div class="t" style="left:1100px;top:1295.2px;font-size:20.5px;color:#111827;letter-spacing:0.1px;-webkit-text-stroke:0.3px #111827;">Dr. Smith</div>
<div class="t" style="left:1100px;top:1317.7px;font-size:20.5px;color:#64748b;">54321</div>
<div class="t" style="left:1502px;top:1306.1px;font-size:20.5px;color:#1f2937;transform:translateX(-50%);">Insurance A</div>
<div class="a" style="left:1700px;top:1296px;width:56px;height:40px;border-radius:20px;background:#d1f7e3"></div>
<svg class="ic" style="left:1716.9px;top:1305.0px" width="23" height="23" viewBox="0 0 24 24" stroke="#34b48a" stroke-width="1.7"><path d="M4 12.5l5 5L20 6.5"/></svg>
<div class="t" style="left:1879.6px;top:1305.4px;font-size:22px;color:#1f2937;letter-spacing:0.35px;">$20</div>
<div class="t" style="left:2043.5px;top:1305.4px;font-size:22px;color:#1f2937;letter-spacing:-0.17px;">$100</div>
<div class="t" style="left:2249.6px;top:1305.4px;font-size:22px;color:#1f2937;letter-spacing:0.85px;">$80</div>
<div class="a" style="left:2230.9px;top:1294.5px;width:75px;height:43px;border-radius:22px;border:2px solid #e2e3e6"></div>
<div class="a" style="left:2504px;top:1294px;width:174px;height:44px;border-radius:22px;background:#d2f8e4"></div>
<div class="t" style="left:2523px;top:1305.7px;font-size:22px;color:#2dac80;">Completed</div>
<svg class="ic" style="left:2638.8px;top:1305.2px" width="22.5" height="22.5" viewBox="0 0 24 24" stroke="#2dac80" stroke-width="1.7"><path d="M4 12.5l5 5L20 6.5"/></svg>
<div class="a" style="left:166px;top:1358px;width:2px;height:80px;background:#566379"></div>
<div class="a" style="left:2802px;top:1358px;width:2px;height:80px;background:#566379"></div>
<div class="a" style="left:166px;top:1438px;width:2638px;height:2px;background:#e4e5e7"></div>
<svg class="a" style="left:278px;top:1374px" width="48" height="48"><use href="#av"/></svg>
<div class="t" style="left:351px;top:1376.2px;font-size:20.5px;color:#111827;letter-spacing:0.1px;-webkit-text-stroke:0.3px #111827;">Olivia Rhye</div>
<div class="t" style="left:351px;top:1399.7px;font-size:20.5px;color:#64748b;letter-spacing:0.5px;">#1233</div>
<svg class="a" style="left:430px;top:1399px" width="134" height="22" viewBox="0 0 134 22">
<rect x="0" y="2.6" width="19.6" height="16" rx="2.2" fill="#047f70"/>
<circle cx="6.2" cy="8.6" r="2.3" fill="none" stroke="#fff" stroke-width="1.5"/><path d="M2.6 15.4c.6-2.4 2-3.6 3.6-3.6s3 1.2 3.6 3.6" fill="none" stroke="#fff" stroke-width="1.5"/>
<path d="M11.5 8.3h5.2M11.5 11.8h5.2" stroke="#fff" stroke-width="1.6"/>
<rect x="27.4" y="3.1" width="20.8" height="15" rx="2" fill="#677488"/>
<rect x="28.6" y="5.2" width="18.4" height="2.2" fill="#fff"/>
<path d="M37.8 14.9h2.2M41.2 14.9h3.5" stroke="#fff" stroke-width="1.3"/>
<rect x="59.2" y="0.3" width="13.8" height="21" rx="2.3" fill="#047f70"/>
<path d="M61.2 2.4h9.8M61.2 19.1h9.8" stroke="#fff" stroke-width="1"/>
<path d="M84.6 4.6a1.5 1.5 0 0 1 1.5-1.5h16.5a1.5 1.5 0 0 1 1.5 1.5v10.4a1.5 1.5 0 0 1-1.5 1.5h-12.4l-4.2 4.4a.8.8 0 0 1-1.4-.5z" fill="#047f70"/>
<rect x="89.9" y="8.7" width="2.3" height="2.3" fill="#fff"/><rect x="93.4" y="8.7" width="2.3" height="2.3" fill="#fff"/><rect x="96.9" y="8.7" width="2.3" height="2.3" fill="#fff"/>
<path d="M121.3 1.4a1.6 1.6 0 0 1 2.8 0l8.9 15.6a1.6 1.6 0 0 1-1.4 2.4h-17.8a1.6 1.6 0 0 1-1.4-2.4z" fill="#f04c3b"/>
<path d="M122.7 7.2v5.2M122.7 15.3v.9" stroke="#fff" stroke-width="2"/>
</svg>
<div class="t" style="left:769px;top:1387.7px;font-size:20.5px;color:#1f2937;transform:translateX(-50%);">Wed 11:00 AM</div>
<svg class="a" style="left:1027px;top:1374px" width="48" height="48"><use href="#av"/></svg>
<div class="t" style="left:1100px;top:1377.2px;font-size:20.5px;color:#111827;letter-spacing:0.1px;-webkit-text-stroke:0.3px #111827;">Dr. Johnson</div>
<div class="t" style="left:1100px;top:1399.7px;font-size:20.5px;color:#64748b;">09876</div>
<div class="t" style="left:1502px;top:1388.1px;font-size:20.5px;color:#1f2937;transform:translateX(-50%);">Insurance B</div>
<div class="a" style="left:1700px;top:1378px;width:56px;height:40px;border-radius:20px;background:#fdcaca"></div>
<svg class="ic" style="left:1718.2px;top:1388.0px" width="20" height="20" viewBox="0 0 24 24" stroke="#f04c3b" stroke-width="1.8"><path d="M5 5l14 14M19 5L5 19"/></svg>
<div class="t" style="left:1879.2px;top:1387.4px;font-size:22px;color:#1f2937;letter-spacing:0.65px;">$30</div>
<div class="t" style="left:2041.2px;top:1387.4px;font-size:22px;color:#1f2937;letter-spacing:1.3px;">$200</div>
<div class="t" style="left:2245.8px;top:1387.4px;font-size:22px;color:#1f2937;letter-spacing:-0.9px;">$170</div>
<div class="a" style="left:2228.4px;top:1376.5px;width:80px;height:43px;border-radius:22px;border:2px solid #e2e3e6"></div>
<div class="a" style="left:2512px;top:1376px;width:158px;height:44px;border-radius:22px;background:#fef4cf"></div>
<div class="a" style="left:2530.6px;top:1394.5px;width:7px;height:7px;border-radius:50%;background:#ee4e38"></div>
<div class="t" style="left:2547px;top:1387.1px;font-size:21px;color:#ee4e38;letter-spacing:-0.4px;">In Progress</div>
<div class="a" style="left:166px;top:1440px;width:2px;height:80px;background:#566379"></div>
<div class="a" style="left:2802px;top:1440px;width:2px;height:80px;background:#566379"></div>
<div class="a" style="left:166px;top:1520px;width:2638px;height:2px;background:#e4e5e7"></div>
<svg class="a" style="left:278px;top:1456px" width="48" height="48"><use href="#av"/></svg>
<div class="t" style="left:351px;top:1458.2px;font-size:20.5px;color:#111827;letter-spacing:0.1px;-webkit-text-stroke:0.3px #111827;">Olivia Rhye</div>
<div class="t" style="left:351px;top:1481.7px;font-size:20.5px;color:#64748b;letter-spacing:0.5px;">#1233</div>
<svg class="a" style="left:430px;top:1481px" width="134" height="22" viewBox="0 0 134 22">
<rect x="0" y="2.6" width="19.6" height="16" rx="2.2" fill="#047f70"/>
<circle cx="6.2" cy="8.6" r="2.3" fill="none" stroke="#fff" stroke-width="1.5"/><path d="M2.6 15.4c.6-2.4 2-3.6 3.6-3.6s3 1.2 3.6 3.6" fill="none" stroke="#fff" stroke-width="1.5"/>
<path d="M11.5 8.3h5.2M11.5 11.8h5.2" stroke="#fff" stroke-width="1.6"/>
<rect x="27.4" y="3.1" width="20.8" height="15" rx="2" fill="#677488"/>
<rect x="28.6" y="5.2" width="18.4" height="2.2" fill="#fff"/>
<path d="M37.8 14.9h2.2M41.2 14.9h3.5" stroke="#fff" stroke-width="1.3"/>
<rect x="59.2" y="0.3" width="13.8" height="21" rx="2.3" fill="#047f70"/>
<path d="M61.2 2.4h9.8M61.2 19.1h9.8" stroke="#fff" stroke-width="1"/>
<path d="M84.6 4.6a1.5 1.5 0 0 1 1.5-1.5h16.5a1.5 1.5 0 0 1 1.5 1.5v10.4a1.5 1.5 0 0 1-1.5 1.5h-12.4l-4.2 4.4a.8.8 0 0 1-1.4-.5z" fill="#047f70"/>
<rect x="89.9" y="8.7" width="2.3" height="2.3" fill="#fff"/><rect x="93.4" y="8.7" width="2.3" height="2.3" fill="#fff"/><rect x="96.9" y="8.7" width="2.3" height="2.3" fill="#fff"/>
<path d="M121.3 1.4a1.6 1.6 0 0 1 2.8 0l8.9 15.6a1.6 1.6 0 0 1-1.4 2.4h-17.8a1.6 1.6 0 0 1-1.4-2.4z" fill="#f04c3b"/>
<path d="M122.7 7.2v5.2M122.7 15.3v.9" stroke="#fff" stroke-width="2"/>
</svg>
<div class="t" style="left:769px;top:1469.7px;font-size:20.5px;color:#1f2937;transform:translateX(-50%);">Fri 12:00 PM</div>
<svg class="a" style="left:1027px;top:1456px" width="48" height="48"><use href="#av"/></svg>
<div class="t" style="left:1100px;top:1459.2px;font-size:20.5px;color:#111827;letter-spacing:0.1px;-webkit-text-stroke:0.3px #111827;">Dr. Lee</div>
<div class="t" style="left:1100px;top:1481.7px;font-size:20.5px;color:#64748b;">33211</div>
<div class="t" style="left:1502px;top:1470.1px;font-size:20.5px;color:#1f2937;transform:translateX(-50%);">Insurance C</div>
<div class="a" style="left:1700px;top:1460px;width:56px;height:40px;border-radius:20px;background:#fef4cf"></div>
<svg class="ic" style="left:1716.5px;top:1469.2px" width="21.5" height="21.5" viewBox="0 0 24 24" stroke="#f04c3b" stroke-width="1.6"><path d="M4.5 9.5A8 8 0 1 1 5 15.5"/><path d="M4 4.5v5h5"/></svg>
<div class="t" style="left:1880.5px;top:1469.4px;font-size:22px;color:#1f2937;letter-spacing:-0.55px;">$25</div>
<div class="t" style="left:2044.3px;top:1469.4px;font-size:22px;color:#1f2937;letter-spacing:-0.9px;">$150</div>
<div class="t" style="left:2245.4px;top:1469.4px;font-size:22px;color:#1f2937;letter-spacing:-0.9px;">$125</div>
<div class="a" style="left:2228.4px;top:1458.5px;width:80px;height:43px;border-radius:22px;border:2px solid #e2e3e6"></div>
<div class="a" style="left:2543px;top:1458px;width:96px;height:44px;border-radius:22px;background:#dcebfd"></div>
<div class="a" style="left:2561.6px;top:1476.5px;width:7px;height:7px;border-radius:50%;background:#2f86f6"></div>
<div class="t" style="left:2577.5px;top:1469.1px;font-size:21px;color:#2f86f6;">Sent</div>
<script>(function(){var w=window.innerWidth;if(w&&Math.abs(w-2880)>2){document.documentElement.style.zoom=w/2880;}})();</script>
</body></html>
